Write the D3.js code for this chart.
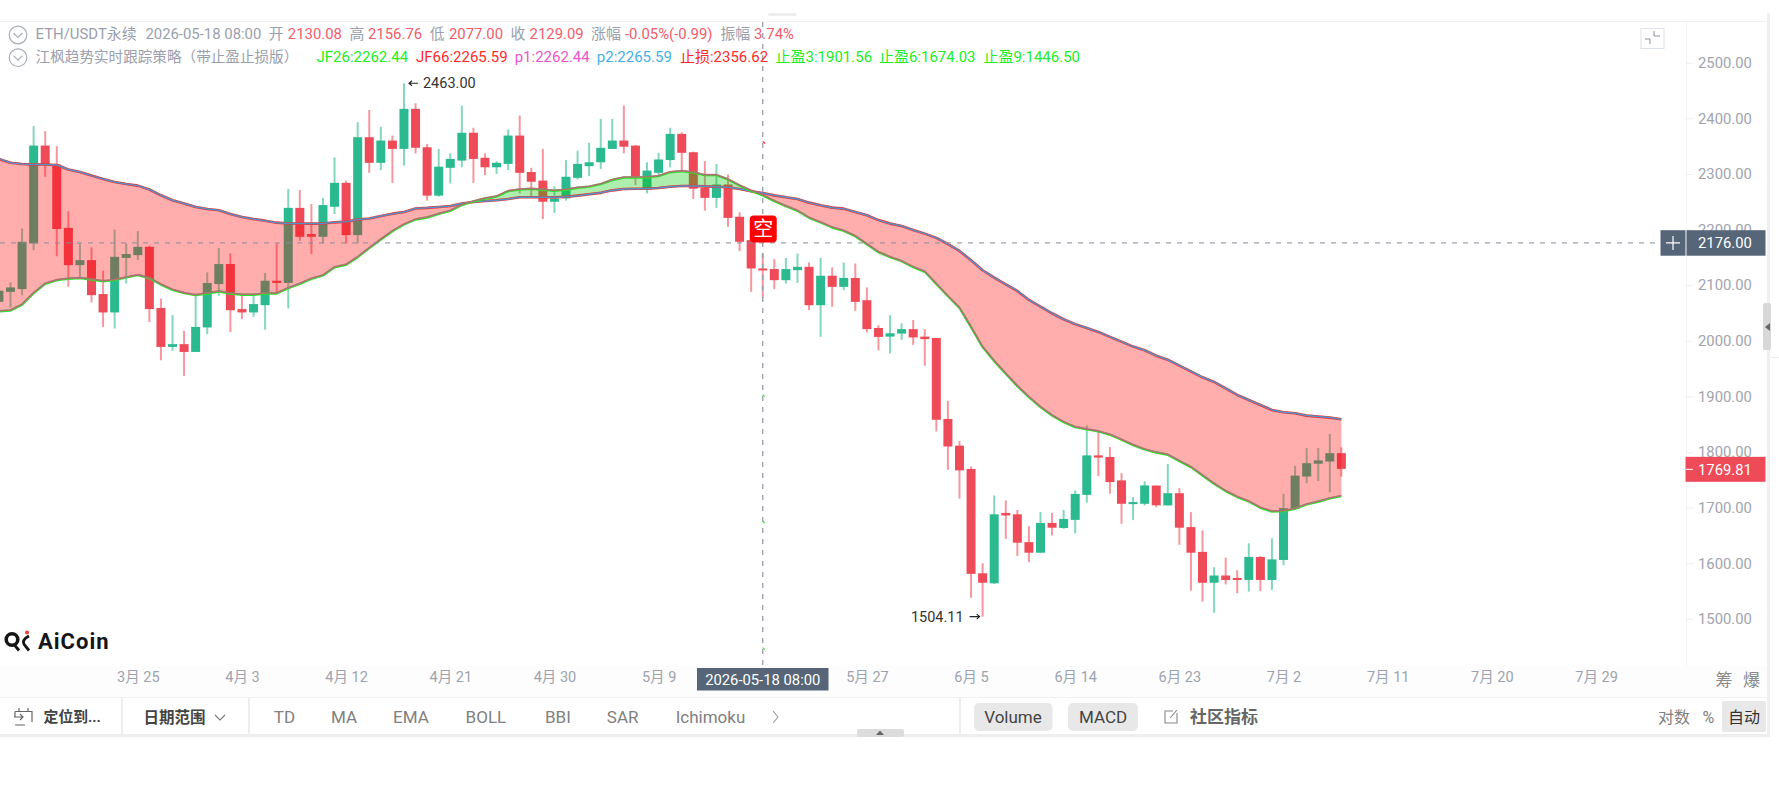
<!DOCTYPE html>
<html>
<head>
<meta charset="utf-8">
<title>ETH/USDT</title>
<script src="https://cdn.jsdelivr.net/npm/d3@7"></script>
<style>
  html, body { margin: 0; padding: 0; background: #fff; overflow: hidden; }
  svg { display: block; font-family: Roboto, "Noto Sans CJK SC", sans-serif; }
  .yAxis .domain, .xAxis .domain { display: none; }
  .yAxis line { stroke: #eeeeee; }
  .xAxis line { display: none; }
</style>
</head>
<body>
<svg id="chart" width="1779" height="794"></svg>
<script>
// Daily ETH/USDT perpetual candles, 2026-03-13 through 2026-07-07.
const firstDay = Date.UTC(2026, 2, 13);
const opens = [
  2070,2088,2093,2175,2351,2317,2203,2136,2145,2084,2051,2149,2154,2169,2059,1989,1994,1980,2024,
  2102,2138,2057,2051,2064,2108,2104,2239,2192,2187,2241,2284,2190,2366,2320,2360,2345,2417,2348,2261,2311,2324,2374,2329,2312,2318,2369,2303.5,2288,2250,
  2256,2293,2314,2321,2345,2360,2351,2272,2302,2325,2372,2339,2275,2257,2281,2223,2181,2130.08,2129,2109,2127,2133,2064,2117,2097,2113,2073,2023,2007.5,2013,2021,
  2007.5,2005,1859.5,1811.5,1769.5,1582,1564,1690.5,1688,1638,1619,1672.5,1663.5,1678,1723,1794,1791,1749,1708,1707,1739.7,1704,1726,1665,1620.5,1565,1578,1573.6,1570,1611.4,
  1570,1606,1697.7,1756,1779,1783,1798
];
const highs = [
  2098,2105,2202,2386,2377,2350,2233,2175,2168,2126,2200,2175,2197,2171,2076,2046,2018,2082,2123,
  2167,2157,2081,2081,2122,2175,2273,2271,2246,2257,2330,2288,2393,2415,2385,2369,2463,2427,2354,2345,2337,2423,2383,2337,2323,2380,2405,2311,2345,2278,
  2325,2342,2356,2399,2399,2423,2352,2321,2338,2383,2375,2340,2323,2318,2299,2231,2181,2156.76,2147,2149,2157,2141,2149,2132,2141,2139,2096,2028,2046,2031.5,2037.5,
  2021,2005,1892,1820,1774,1600,1722,1713,1696,1666.6,1692.3,1690.5,1696,1731,1847.5,1837,1809,1762,1719,1747.5,1740,1778.6,1735,1692,1659,1593,1610,1587.5,1636,1613,
  1645,1725,1775,1807,1807.4,1832.5,1808.6
];
const lows = [
  2062,2060,2082,2163,2295,2152,2097,2115,2069,2025,2022,2103,2145,2034,1965,1982,1937,1980,2012,
  2081,2016,2039,2043,2020,2085,2058,2180,2156,2175,2228,2175,2175,2302,2307,2284,2315,2337,2252,2259,2283,2312,2284,2298,2300,2307,2265,2260,2219,2230,
  2252,2290,2296,2309,2345,2337,2280,2265,2297,2312,2307,2255,2234,2239,2205,2161,2088,2077,2093,2103,2104,2055,2007,2061,2091,2054,2015,1983,1977.6,2001.5,1992.5,
  1955,1837,1768,1716,1538,1504.11,1563,1644,1613,1602,1619,1650,1662,1654,1709,1757,1725,1671,1678,1704,1700.7,1704,1633,1551,1531,1511,1562,1546,1549,1550,
  1552,1596.5,1696,1744,1748,1727.7,1756
];
const closes = [
  2090,2096,2178,2351,2317,2201,2136,2145,2082,2051,2151,2156,2169,2057,1989,1994,1980,2025,2104,
  2138,2055,2051,2066,2108,2104,2239,2187,2187,2244,2284,2190,2366,2320,2360,2345,2417,2347,2261,2313,2327,2374,2327,2312,2320,2369,2302,2286,2250,2256,
  2295,2318,2321,2347,2360,2349,2294,2306,2326,2372,2338,2273.5,2257,2281,2221,2178,2130,2129.09,2109,2129,2133,2064,2117,2097,2113,2070,2021,2007,2013.5,2021,2006,
  2003,1858,1810,1767,1581,1565,1688,1686,1637,1619,1672.5,1664,1679.7,1724.7,1794,1790,1746,1707,1710,1740,1704.3,1726,1664,1619,1565,1578,1570,1570,1611.4,1570,
  1607,1699,1757.6,1780,1785,1798,1769.81
];

// Strategy channel: JF66 (with p2 on top) and JF26 (with p1 on top).
const jf66 = [
  2327,2320,2318,2317,2317,2316,2308,2303.5,2297,2291,2285.5,2282,2279,2272,2261.6,2252.6,2247,2240.6,2237,
  2234.6,2228,2222.6,2219,2216,2212.4,2211,2211,2210.7,2211,2213,2214,2218,2220,2224.4,2228.6,2231.6,2238,2239,2240.6,2242.4,2247,2249.6,2251.4,2252.6,2255,2258,2258,2258,2258,
  2259,2261,2263.4,2266,2270.5,2273,2273.5,2273.5,2274.7,2277,2278.3,2278.3,2277.7,2277,2276,2273,2268.7,2265.59,2261.5,2258,2255,2248.4,2243.6,2239.4,2237.6,2231.6,2225.6,2217,2210.7,2206.5,2199.3,
  2192.7,2185,2174,2161.5,2144.7,2126.8,2113.6,2101.6,2089.6,2073.4,2061.5,2049.5,2038.7,2030,2023,2016,2007,1998.5,1989.6,1983,1973.3,1966,1955.4,1945,1934.4,1926,1914.6,1902.6,1893.6,1884.7,
  1875.7,1871.5,1869.7,1865.5,1863.7,1861.9,1858.9
];
const jf26 = [
  2054,2055.5,2066,2086.6,2103.4,2110,2112.4,2113.6,2111,2108,2110,2114.8,2119,2113.6,2102,2092.6,2086.6,2083,2086,
  2089.6,2086,2083.6,2083.6,2086,2086,2095.6,2103.4,2112.4,2118.4,2133,2137.6,2151.3,2167.5,2183,2198,2210,2219,2222.6,2229,2234.6,2245,2251.4,2256.8,2260.4,2270,2273,2274,2272.4,2270.6,
  2272.4,2276,2278,2282.5,2290,2294.5,2294.5,2295,2297,2304,2306,2303.5,2298.7,2298.7,2291,2280,2270.5,2262.44,2252,2243,2234.6,2222,2213.6,2204.6,2198.6,2189,2174.5,2160.3,2151.3,2144,2133.4,
  2125,2103,2081,2060,2025.5,1989.6,1964.4,1941.6,1919.4,1899.7,1881.7,1866.7,1854.7,1845.7,1841.6,1838,1832,1823,1813.4,1805.6,1800,1796,1784.6,1773.8,1758.8,1743.8,1730.7,1720,1712,1700.7,
  1694,1694.7,1699,1706.7,1711.5,1717.5,1721.7
];

// Axis ticks
const priceTicks = [2500,2400,2300,2200,2100,2000,1900,1800,1700,1600,1500];
const dateTicks = [
  [2,25],[3,3],[3,12],[3,21],[3,30],[4,9],[4,27],[5,5],[5,14],[5,23],[6,2],[6,11],[6,20],[6,29]
];

// Crosshair, current price and strategy levels
const crossDay = Date.UTC(2026, 4, 18);
const crossPrice = 2176;
const lastPrice = 1769.81;
const stopLoss = 2356.62;
const takeProfits = [1901.56, 1674.03, 1446.50];

// Header texts
const headerOne = ["ETH/USDT永续","2026-05-18 08:00","开","2130.08","高","2156.76","低","2077.00","收","2129.09","涨幅","-0.05%(-0.99)","振幅","3.74%"];
const headerTwo = ["江枫趋势实时跟踪策略（带止盈止损版）","JF26:2262.44","JF66:2265.59","p1:2262.44","p2:2265.59","止损:2356.62","止盈3:1901.56","止盈6:1674.03","止盈9:1446.50"];
const toolbarIndicators = ["TD","MA","EMA","BOLL","BBI","SAR","Ichimoku"];

const RED = "#ef4a58", GREEN = "#2bba8f", SLATE = "#566578";
const dayMs = 86400000;
const days = opens.map((o, i) => ({
  t: firstDay + i * dayMs, o, h: highs[i], l: lows[i], c: closes[i], up: jf66[i], dn: jf26[i]
}));

const svg = d3.select("#chart");

const x = d3.scaleUtc()
  .domain([Date.UTC(2026, 2, 25), Date.UTC(2026, 6, 29)])
  .range([137.8, 1596]);
const y = d3.scaleLinear().domain([2500, 1500]).range([62.7, 618.9]);

// Frame and panel chrome
const frame = svg.append("g");
frame.append("rect").attr("x", 0).attr("y", 21).attr("width", 1768).attr("height", 1).attr("fill", "#f0f0f0");
frame.append("rect").attr("x", 768).attr("y", 13).attr("width", 29).attr("height", 3).attr("rx", 1.5).attr("fill", "#eeeeee");
frame.append("rect").attr("x", 1767).attr("y", 13).attr("width", 3).attr("height", 724).attr("fill", "#f0f0f0");
frame.append("rect").attr("x", 1686).attr("y", 22).attr("width", 1).attr("height", 644).attr("fill", "#f6f6f6");
frame.append("rect").attr("x", 0).attr("y", 666).attr("width", 1767).attr("height", 31).attr("fill", "#fdfdfd");
frame.append("rect").attr("x", 0).attr("y", 697).attr("width", 1767).attr("height", 1).attr("fill", "#f0f0f0");
frame.append("rect").attr("x", 0).attr("y", 734).attr("width", 1770).attr("height", 3).attr("fill", "#eeeeee");
frame.append("rect").attr("x", 1770).attr("y", 357).attr("width", 9).attr("height", 1).attr("fill", "#eeeeee");

// Candles: wicks first, bodies over them
const candles = svg.append("g");
candles.selectAll("line").data(days).join("line")
  .attr("x1", d => x(d.t)).attr("x2", d => x(d.t))
  .attr("y1", d => y(d.h)).attr("y2", d => y(d.l))
  .attr("stroke", d => d.c >= d.o ? GREEN : RED)
  .attr("stroke-width", 2).attr("stroke-opacity", 0.58);
candles.selectAll("rect").data(days).join("rect")
  .attr("x", d => x(d.t) - 4.5).attr("width", 9)
  .attr("y", d => y(Math.max(d.o, d.c)))
  .attr("height", d => Math.max(2, Math.abs(y(d.o) - y(d.c))))
  .attr("fill", d => d.c >= d.o ? GREEN : RED);

// Channel fill: pink while JF66 is above JF26, green while JF26 leads
const bandDown = d3.area().x(d => x(d.t)).y0(d => y(d.up)).y1(d => y(Math.min(d.up, d.dn)));
const bandUp = d3.area().x(d => x(d.t)).y0(d => y(Math.max(d.up, d.dn))).y1(d => y(d.up));
svg.append("path").datum(days).attr("d", bandDown).attr("fill", "rgba(255,0,0,0.32)");
svg.append("path").datum(days).attr("d", bandUp).attr("fill", "rgba(0,200,0,0.32)");

// Channel lines; the JF lines sit a hair off their p1/p2 twins so both stay visible
const lineUp = d3.line().x(d => x(d.t)).y(d => y(d.up));
const lineDn = d3.line().x(d => x(d.t)).y(d => y(d.dn));
const channel = svg.append("g").attr("fill", "none").attr("stroke-linejoin", "round");
channel.append("path").datum(days).attr("d", lineUp).attr("stroke", "#ff2a2a").attr("stroke-width", 2.6);
channel.append("path").datum(days).attr("d", lineUp).attr("stroke", "#3f9ed8").attr("stroke-width", 1.5).attr("stroke-opacity", 0.9);
channel.append("path").datum(days).attr("d", lineDn).attr("transform", "translate(0,0.5)").attr("stroke", "#28e828").attr("stroke-width", 2.4);
channel.append("path").datum(days).attr("d", lineDn).attr("stroke", "#e64090").attr("stroke-width", 1.6).attr("stroke-opacity", 0.72);

// Crosshair
const cx = x(crossDay), cy = y(crossPrice);
svg.append("line").attr("x1", 0).attr("x2", 1660).attr("y1", cy).attr("y2", cy)
  .attr("stroke", "#868e9b").attr("stroke-width", 1).attr("stroke-dasharray", "5 6");
svg.append("line").attr("x1", cx).attr("x2", cx).attr("y1", 22).attr("y2", 668)
  .attr("stroke", "#949ca8").attr("stroke-width", 1.3).attr("stroke-dasharray", "5 6");

// Short ticks on the crosshair at the stop-loss and take-profit levels
svg.append("line").attr("x1", cx).attr("x2", cx + 2.5).attr("y1", y(stopLoss) - 1).attr("y2", y(stopLoss) + 1)
  .attr("stroke", "#ff2a2a").attr("stroke-width", 1.2);
svg.selectAll(".tp").data(takeProfits).join("line").attr("class", "tp")
  .attr("x1", cx).attr("x2", cx + 2).attr("y1", d => y(d) - 1).attr("y2", d => y(d) + 1)
  .attr("stroke", "#28e828").attr("stroke-width", 1.2);

// Short-entry badge
const badge = svg.append("g").attr("transform", `translate(${cx},${cy})`);
badge.append("rect").attr("x", -13).attr("y", -27.5).attr("width", 27).attr("height", 27).attr("rx", 4).attr("fill", "#ff0000");
badge.append("text").attr("x", 0.5).attr("y", -7).attr("text-anchor", "middle")
  .attr("fill", "#fff").attr("font-size", 20).text("空");

// High and low callouts, read from the series
const peak = days[d3.greatestIndex(days, d => d.h)];
const trough = days[d3.leastIndex(days, d => d.l)];
function arrow(g, x1, x2, yy) {
  const dir = x2 > x1 ? 1 : -1;
  g.append("path").attr("fill", "none").attr("stroke", "#222").attr("stroke-width", 1.1)
    .attr("d", `M${x1},${yy}L${x2},${yy}M${x2 - dir * 3},${yy - 2.5}L${x2},${yy}L${x2 - dir * 3},${yy + 2.5}`);
}
const callouts = svg.append("g").attr("font-size", 14.5).attr("fill", "#333");
arrow(callouts, x(peak.t) + 14, x(peak.t) + 5, y(peak.h));
callouts.append("text").attr("x", x(peak.t) + 19).attr("y", y(peak.h)).attr("dy", "0.35em").text(peak.h.toFixed(2));
arrow(callouts, x(trough.t) - 13, x(trough.t) - 3, y(trough.l));
callouts.append("text").attr("x", x(trough.t) - 19).attr("y", y(trough.l)).attr("dy", "0.35em").attr("text-anchor", "end").text(trough.l.toFixed(2));

// Price axis on the right
svg.append("g").attr("class", "yAxis").attr("transform", "translate(1686,0)")
  .call(d3.axisRight(y).tickValues(priceTicks).tickSize(7).tickPadding(5).tickFormat(d => d.toFixed(2)))
  .call(g => g.selectAll("text").attr("fill", "#9fa4ad").attr("font-size", 14.8).attr("font-family", "Roboto"));

// Date axis
svg.append("g").attr("class", "xAxis").attr("transform", "translate(0,668)")
  .call(d3.axisBottom(x)
    .tickValues(dateTicks.map(([m, d]) => new Date(Date.UTC(2026, m, d))))
    .tickSize(0).tickPadding(4)
    .tickFormat(t => `${t.getUTCMonth() + 1}月 ${t.getUTCDate()}`))
  .call(g => g.selectAll("text").attr("fill", "#9ca3af").attr("font-size", 14.5).attr("font-family", "Roboto, 'Noto Sans CJK SC'"));

// Crosshair value tags
const tags = svg.append("g");
tags.append("rect").attr("x", 697).attr("y", 668).attr("width", 131.5).attr("height", 22.5).attr("fill", SLATE);
tags.append("text").attr("x", cx).attr("y", 679.5).attr("dy", "0.35em").attr("text-anchor", "middle")
  .attr("fill", "#fff").attr("font-size", 14.8).text(headerOne[1]);
tags.append("rect").attr("x", 1660.5).attr("y", cy - 12.7).attr("width", 25).attr("height", 25.5).attr("fill", SLATE);
tags.append("path").attr("d", `M1666,${cy}H1680M1673,${cy - 7}V${cy + 7}`).attr("stroke", "#fff").attr("stroke-width", 1.2);
tags.append("rect").attr("x", 1686.5).attr("y", cy - 12.7).attr("width", 79).attr("height", 25.5).attr("fill", SLATE);
tags.append("text").attr("x", 1698).attr("y", cy).attr("dy", "0.36em").attr("fill", "#fff").attr("font-size", 14.8).text(crossPrice.toFixed(2));
const ly = y(lastPrice);
tags.append("rect").attr("x", 1685.5).attr("y", ly - 12).attr("width", 80).attr("height", 25).attr("fill", RED);
tags.append("line").attr("x1", 1686).attr("x2", 1693).attr("y1", ly + 0.5).attr("y2", ly + 0.5).attr("stroke", "#fff");
tags.append("text").attr("x", 1698).attr("y", ly + 0.5).attr("dy", "0.36em").attr("fill", "#fff").attr("font-size", 14.8).text(lastPrice.toFixed(2));

// Header rows
function chevronBadge(g, cxp, cyp) {
  g.append("circle").attr("cx", cxp).attr("cy", cyp).attr("r", 8.8).attr("fill", "none").attr("stroke", "#a8aeb9").attr("stroke-width", 1.2);
  g.append("path").attr("d", `M${cxp - 4.5},${cyp - 2}L${cxp},${cyp + 2.5}L${cxp + 4.5},${cyp - 2}`).attr("fill", "none").attr("stroke", "#a8aeb9").attr("stroke-width", 1.2);
}
const head = svg.append("g").attr("font-size", 14.9);
chevronBadge(head, 18, 35);
chevronBadge(head, 18, 57.7);
const grey = "#9aa0ad", softRed = "#f25c6b";
const oneX = [35.6,145.4,268.7,287.8,349.4,368,429.8,448.9,510.5,529.6,591,625,720.4,754];
const oneFill = [grey,grey,grey,softRed,grey,softRed,grey,softRed,grey,softRed,grey,softRed,grey,softRed];
head.selectAll(".r1").data(headerOne).join("text").attr("class", "r1")
  .attr("x", (d, i) => oneX[i]).attr("y", 34).attr("dy", "0.36em")
  .attr("fill", (d, i) => oneFill[i]).text(d => d);
const twoX = [35.6,316.5,416,514.7,596.8,679.9,775.5,878.9,983.4];
const twoFill = [grey,"#22ee22","#ff2a2a","#ee55cc","#45b0e8","#ff2a2a","#22ee22","#22ee22","#22ee22"];
head.selectAll(".r2").data(headerTwo).join("text").attr("class", "r2")
  .attr("x", (d, i) => twoX[i]).attr("y", 56.7).attr("dy", "0.36em")
  .attr("font-size", (d, i) => i === 0 ? 14.6 : 15)
  .attr("fill", (d, i) => twoFill[i]).text(d => d);

// Collapse button in the chart corner
const corner = svg.append("g");
corner.append("rect").attr("x", 1641).attr("y", 28.5).attr("width", 23).attr("height", 20).attr("fill", "#fff").attr("stroke", "#dde2ea");
corner.append("path").attr("d", "M1654,31V36H1660M1645,39H1650V44").attr("fill", "none").attr("stroke", "#8a909a");

// Side handle
const side = svg.append("g");
side.append("rect").attr("x", 1763).attr("y", 303).attr("width", 8).attr("height", 47).attr("rx", 2).attr("fill", "#d8d8d8");
side.append("path").attr("d", "M1765,327L1770,323V331Z").attr("fill", "#666");

// Watermark
const logo = svg.append("g");
logo.append("circle").attr("cx", 12).attr("cy", 639.5).attr("r", 5.8).attr("fill", "none").attr("stroke", "#151515").attr("stroke-width", 3.6);
logo.append("path").attr("d", "M14.5,645L19,650.5").attr("stroke", "#151515").attr("stroke-width", 2.8);
logo.append("path").attr("d", "M29,636Q21,640 24.5,645L29,650.5").attr("fill", "none").attr("stroke", "#151515").attr("stroke-width", 2.8);
logo.append("circle").attr("cx", 27).attr("cy", 632.5).attr("r", 2).attr("fill", "#f0442c");
logo.append("text").attr("x", 38).attr("y", 649).attr("font-size", 22).attr("font-weight", 700)
  .attr("letter-spacing", 1).attr("fill", "#151515").text("AiCoin");

// Depth and liquidation shortcuts
const shortcuts = svg.append("g").attr("font-size", 17).attr("fill", "#8a8a8a");
shortcuts.append("text").attr("x", 1715.5).attr("y", 680).attr("dy", "0.36em").text("筹");
shortcuts.append("text").attr("x", 1743).attr("y", 680).attr("dy", "0.36em").text("爆");

// Toolbar
const TOOL_Y = 717;
const bar = svg.append("g");
[121, 248, 959].forEach(sx => bar.append("rect").attr("x", sx).attr("y", 698).attr("width", 2).attr("height", 36).attr("fill", "#eeeeee"));
bar.append("path").attr("d", "M19,708V711.5M28,708V711.5M15,711.5H32V722M15,711.5V717M14,717H23M20,714L23,717L20,720M15,725H25")
  .attr("fill", "none").attr("stroke", "#666").attr("stroke-width", 1.2);
bar.append("text").attr("x", 43.6).attr("y", TOOL_Y).attr("dy", "0.36em").attr("font-size", 14.8).attr("font-weight", 700).attr("fill", "#444").text("定位到...");
bar.append("text").attr("x", 143.5).attr("y", TOOL_Y).attr("dy", "0.36em").attr("font-size", 15.5).attr("font-weight", 700).attr("fill", "#444").text("日期范围");
bar.append("path").attr("d", `M215,${TOOL_Y - 2}L220,${TOOL_Y + 3}L225,${TOOL_Y - 2}`).attr("fill", "none").attr("stroke", "#777").attr("stroke-width", 1.1);
const indicatorX = [273.8, 331, 393, 465.6, 545, 606.8, 675.7];
bar.selectAll(".ind").data(toolbarIndicators).join("text").attr("class", "ind")
  .attr("x", (d, i) => indicatorX[i]).attr("y", TOOL_Y).attr("dy", "0.36em")
  .attr("font-size", 17).attr("fill", "#808080").text(d => d);
bar.append("path").attr("d", `M773,${TOOL_Y - 6}L778,${TOOL_Y}L773,${TOOL_Y + 6}`).attr("fill", "none").attr("stroke", "#999").attr("stroke-width", 1.1);

bar.append("rect").attr("x", 974).attr("y", 703).attr("width", 78.5).attr("height", 28).attr("rx", 5).attr("fill", "#e8e8e8");
bar.append("text").attr("x", 1013).attr("y", TOOL_Y).attr("dy", "0.36em").attr("text-anchor", "middle").attr("font-size", 17).attr("fill", "#444").text("Volume");
bar.append("rect").attr("x", 1068).attr("y", 703).attr("width", 70).attr("height", 28).attr("rx", 5).attr("fill", "#e8e8e8");
bar.append("text").attr("x", 1103).attr("y", TOOL_Y).attr("dy", "0.36em").attr("text-anchor", "middle").attr("font-size", 17).attr("fill", "#444").text("MACD");
bar.append("path").attr("d", `M1177,${TOOL_Y - 4}V${TOOL_Y + 6}H1165V${TOOL_Y - 6}H1173M1170,${TOOL_Y + 1}L1177,${TOOL_Y - 7}`).attr("fill", "none").attr("stroke", "#888").attr("stroke-width", 1.1);
bar.append("text").attr("x", 1190).attr("y", TOOL_Y).attr("dy", "0.36em").attr("font-size", 17).attr("font-weight", 700).attr("fill", "#666").text("社区指标");
bar.append("text").attr("x", 1658).attr("y", TOOL_Y).attr("dy", "0.36em").attr("font-size", 16).attr("fill", "#808080").text("对数");
bar.append("text").attr("x", 1702.5).attr("y", TOOL_Y).attr("dy", "0.36em").attr("font-size", 16).attr("fill", "#808080").text("%");
bar.append("rect").attr("x", 1722).attr("y", 701).attr("width", 44).attr("height", 31).attr("rx", 2).attr("fill", "#e8e8e8");
bar.append("text").attr("x", 1744).attr("y", TOOL_Y).attr("dy", "0.36em").attr("text-anchor", "middle").attr("font-size", 16).attr("fill", "#333").text("自动");

// Bottom pane drag handle
bar.append("rect").attr("x", 857).attr("y", 729).attr("width", 47).attr("height", 8).attr("rx", 2).attr("fill", "#dcdcdc");
bar.append("path").attr("d", "M876,735L880,730.5L884,735Z").attr("fill", "#666");
</script>
</body>
</html>
